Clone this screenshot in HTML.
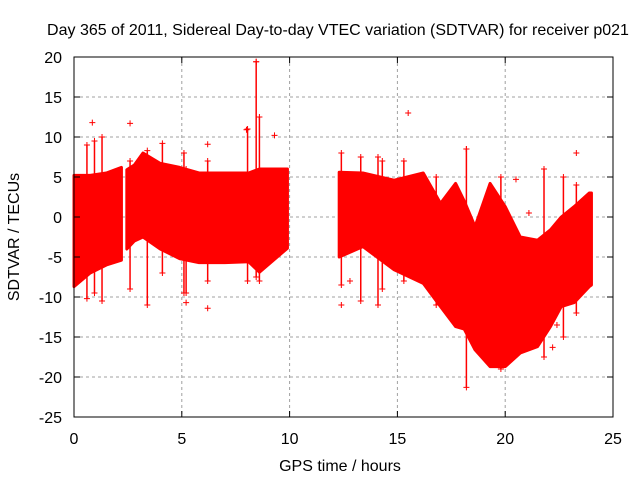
<!DOCTYPE html>
<html><head><meta charset="utf-8"><style>
body{margin:0;background:#fff}
svg text{font-family:"Liberation Sans",sans-serif;font-size:16px;fill:#000}
</style></head><body>
<svg id="chart" width="640" height="480" xmlns="http://www.w3.org/2000/svg">
<rect width="640" height="480" fill="#fff"/>
<text x="338" y="35" text-anchor="middle">Day 365 of 2011, Sidereal Day-to-day VTEC variation (SDTVAR) for receiver p021</text>
<text x="340" y="471" text-anchor="middle">GPS time / hours</text>
<text x="0" y="0" text-anchor="middle" transform="translate(19,237) rotate(-90)">SDTVAR / TECUs</text>
<g id="grid"></g>
<g id="marks"></g>
<g id="axes"></g>
</svg>
<script>
const xTicks=[0,5,10,15,20,25];
const yTicks=[20,15,10,5,0,-5,-10,-15,-20,-25];
// band segments: time, upper envelope, lower envelope
const seg1T=[0,0.75,1.5,2.2];
const seg1Hi=[5.2,5.2,5.5,6.2];
const seg1Lo=[-8.7,-7,-6,-5.4];
const seg2T=[2.45,2.8,3.2,4,4.9,5.8,7,8.1,8.6,9.9];
const seg2Hi=[5.9,6.5,8,6.7,6.2,5.5,5.5,5.5,6,6];
const seg2Lo=[-4,-3,-2.5,-4,-5.2,-5.7,-5.7,-5.6,-6.9,-3.9];
const seg3T=[12.3,13.4,14.85,16.2,17,17.7,18.1,18.6,19.3,20,20.7,21.5,22.1,22.6,23.2,23.9,24];
const seg3Hi=[5.6,5.5,4.6,5.5,1.7,4.2,2,-1.2,4.2,1.3,-2.5,-2.9,-1.6,0,1.3,3,3];
const seg3Lo=[-5,-3.7,-6.6,-8.3,-11.2,-13.7,-14,-16.6,-18.7,-18.7,-17,-16.2,-13.7,-11.2,-10.7,-8.7,-8.5];
// spikes: time, top, bottom
const spikeT=[0.6,0.95,1.3,2.6,3.4,4.1,5.1,5.2,6.2,8.05,8.45,8.6,12.4,13.3,14.1,14.3,15.3,16.8,18.2,19.8,21.8,22.7,23.3];
const spikeTop=[9,9.5,10,7,8.3,9.2,8,6,7,11,19.4,12.5,8,7.5,7.5,7,7,5,8.5,5,6,5,4];
const spikeBot=[-10.2,-9.5,-10.5,-9,-11,-7,-9.5,-9.5,-8,-8,-7.5,-8,-8.5,-10.5,-11,-9,-8,-11,-21.3,-19,-17.5,-15,-12];
// isolated outlier points
const outT=[0.85,2.6,6.2,8,9.3,6.2,5.2,12.4,12.8,15.5,18.2,20.5,21.1,22.2,22.4,23.3,8.45];
const outV=[11.8,11.7,9.1,10.9,10.2,-11.4,-10.7,-11,-8,13,8.5,4.7,0.5,-16.3,-13.5,8,19.4];

const X0=74,X1=613,Y0=417,Y1=57;
const xs=v=>X0+(v-0)/(25-0)*(X1-X0);
const ys=v=>Y0-(v-(-25))/(20-(-25))*(Y0-Y1);
const NS="http://www.w3.org/2000/svg";
function mk(tag,attrs,parent){const e=document.createElementNS(NS,tag);for(const k in attrs)e.setAttribute(k,attrs[k]);parent.appendChild(e);return e;}
const grid=document.getElementById('grid'),marks=document.getElementById('marks'),axes=document.getElementById('axes');
xTicks.forEach(t=>{
  if(t>0&&t<25){const l=mk('line',{x1:xs(t),x2:xs(t),y1:Y1,y2:Y0,stroke:'#a0a0a0','stroke-dasharray':'3,3'},grid);
  
  }
  const tx=mk('text',{x:xs(t),y:444,'text-anchor':'middle'},axes);tx.textContent=t;
  
  
  mk('line',{x1:xs(t),x2:xs(t),y1:Y0,y2:Y0-6,stroke:'#000'},axes);
  mk('line',{x1:xs(t),x2:xs(t),y1:Y1,y2:Y1+6,stroke:'#000'},axes);
});
yTicks.forEach(t=>{
  if(t>-25&&t<20){const l=mk('line',{x1:X0,x2:X1,y1:ys(t),y2:ys(t),stroke:'#a0a0a0','stroke-dasharray':'3,3'},grid);
  
  }
  const tx=mk('text',{x:62,y:ys(t)+6,'text-anchor':'end'},axes);tx.textContent=t;
  
  
  mk('line',{x1:X0,x2:X0+6,y1:ys(t),y2:ys(t),stroke:'#000'},axes);
  mk('line',{x1:X1,x2:X1-6,y1:ys(t),y2:ys(t),stroke:'#000'},axes);
});
const fr=mk('rect',{x:X0,y:Y1,width:X1-X0,height:Y0-Y1,fill:'none',stroke:'#000'},axes);


function band(T,H,L,name){
  let p=T.map((t,i)=>xs(t)+','+ys(H[i]));
  for(let i=T.length-1;i>=0;i--)p.push(xs(T[i])+','+ys(L[i]));
  const e=mk('polygon',{points:p.join(' '),fill:'#f00',stroke:'#f00','stroke-width':3,'stroke-linejoin':'round'},marks);
  
  
}
band(seg1T,seg1Hi,seg1Lo,'band-segment-1');
band(seg2T,seg2Hi,seg2Lo,'band-segment-2');
band(seg3T,seg3Hi,seg3Lo,'band-segment-3');
function plus(x,y){mk('path',{d:`M${x-3},${y}h6M${x},${y-3}v6`,stroke:'#f00','stroke-width':1},marks);}
spikeT.forEach((t,i)=>{
  const e=mk('line',{x1:xs(t),x2:xs(t),y1:ys(spikeTop[i]),y2:ys(spikeBot[i]),stroke:'#f00','stroke-width':1.5},marks);
  
  
  plus(xs(t),ys(spikeTop[i]));plus(xs(t),ys(spikeBot[i]));
});
outT.forEach((t,i)=>{
  const g=mk('g',{},marks);
  
  
  const x=xs(t),y=ys(outV[i]);
  mk('path',{d:`M${x-3},${y}h6M${x},${y-3}v6`,stroke:'#f00','stroke-width':1},g);
});
</script>
</body></html>
